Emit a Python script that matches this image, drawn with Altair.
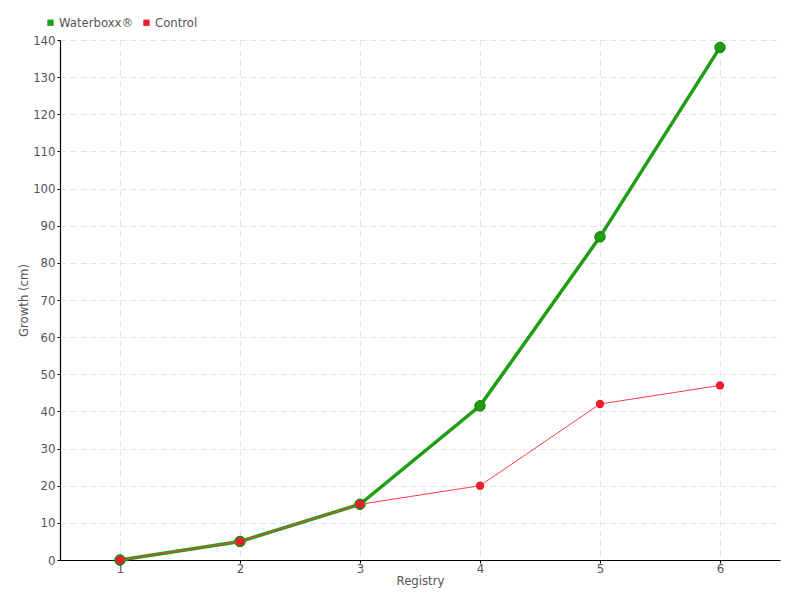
import altair as alt
import pandas as pd

registry = [1, 2, 3, 4, 5, 6]
waterboxx = [0, 5, 15, 41.5, 87, 138]
control = [0, 5, 15, 20, 42, 47]
series_names = ["Waterboxx®", "Control"]
series_colors = ["#1f9e12", "#ee1c2c"]

rows = []
for r, w in zip(registry, waterboxx):
    rows.append({"Registry": r, "Growth": w, "Series": series_names[0]})
for r, c in zip(registry, control):
    rows.append({"Registry": r, "Growth": c, "Series": series_names[1]})
df = pd.DataFrame(rows)

FONT = "DejaVu Sans Condensed, Roboto, sans-serif"
scale_color = alt.Scale(domain=series_names, range=series_colors)

x = alt.X("Registry:Q", scale=alt.Scale(domain=[0.5, 6.5], nice=False, zero=False),
          axis=alt.Axis(values=registry, title="Registry", format="d", titlePadding=-1,
                        labelPadding=-1, tickSize=3))
y = alt.Y("Growth:Q", scale=alt.Scale(domain=[0, 140], nice=False),
          axis=alt.Axis(values=list(range(0, 141, 10)), title="Growth (cm)",
                        titlePadding=2, labelPadding=2, tickSize=3))

wdf = df[df.Series == series_names[0]]
cdf = df[df.Series == series_names[1]]

g_line = alt.Chart(wdf).mark_line(strokeWidth=3.5, color=series_colors[0]).encode(x=x, y=y)
g_pts = alt.Chart(wdf).mark_circle(size=110, opacity=1, color=series_colors[0],
                                   stroke="#157a0a", strokeWidth=1).encode(x=x, y=y)
c_line = alt.Chart(cdf).mark_line(strokeWidth=1, color="#ff3b4a").encode(x=x, y=y)
c_pts = alt.Chart(cdf).mark_circle(size=70, opacity=1, color=series_colors[1]).encode(x=x, y=y)

legend_layer = alt.Chart(df).mark_square(size=0, opacity=1, filled=True).encode(
    x=x, y=y,
    color=alt.Color("Series:N", scale=scale_color, sort=series_names,
                    legend=alt.Legend(orient="none", legendX=-16, legendY=-24, direction="horizontal",
                                      title=None, symbolType="square", symbolSize=40,
                                      symbolOpacity=1, symbolStrokeWidth=0,
                                      labelFont=FONT, labelFontSize=13, labelColor="#555555",
                                      columnPadding=6, labelOffset=2)),
)

chart = alt.layer(g_line, g_pts, c_line, c_pts, legend_layer).properties(
    width=720, height=520,
    autosize=alt.AutoSizeParams(type="none"),
    padding={"left": 52, "top": 32, "right": 12, "bottom": 32},
).configure_view(stroke=None).configure_axis(
    labelFont=FONT, titleFont=FONT, labelFontSize=13, titleFontSize=13,
    labelColor="#555555", titleColor="#555555", titleFontWeight="normal",
    domainColor="#000000", tickColor="#000000", domainWidth=1.2,
    grid=True, gridColor="#e3e3e3", gridDash=[6, 4], gridWidth=1,
)

chart.save("out.html", embed_options={"renderer": "svg", "actions": False})
